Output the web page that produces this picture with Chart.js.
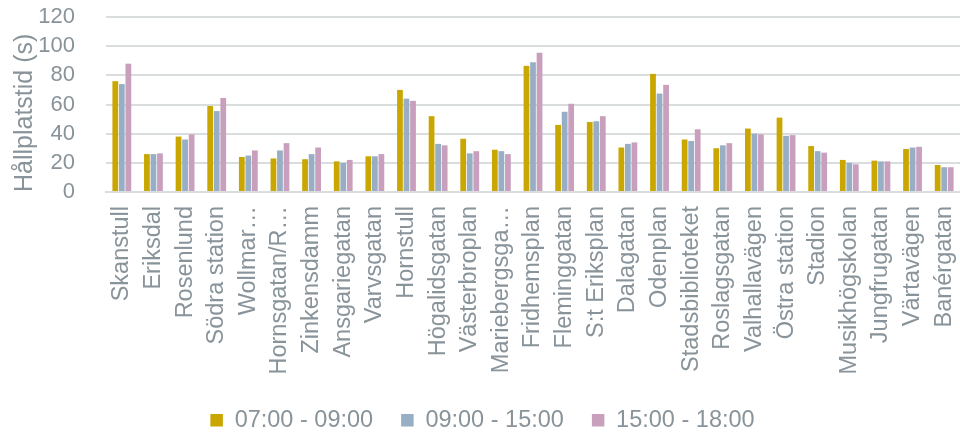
<!DOCTYPE html>
<html>
<head>
<meta charset="utf-8">
<script src="https://cdn.jsdelivr.net/npm/chart.js@4"></script>
<style>
  html, body { margin: 0; padding: 0; background: #fff; }
  #wrap { width: 960px; height: 435px; }
</style>
</head>
<body>
<div id="wrap"><canvas id="myChart" width="960" height="435"></canvas></div>
<script>
const stops = ['Skanstull', 'Eriksdal', 'Rosenlund', 'Södra station', 'Wollmar…', 'Hornsgatan/R…',
  'Zinkensdamm', 'Ansgariegatan', 'Varvsgatan', 'Hornstull', 'Högalidsgatan', 'Västerbroplan',
  'Mariebergsga…', 'Fridhemsplan', 'Fleminggatan', 'S:t Eriksplan', 'Dalagatan', 'Odenplan',
  'Stadsbiblioteket', 'Roslagsgatan', 'Valhallavägen', 'Östra station', 'Stadion',
  'Musikhögskolan', 'Jungfrugatan', 'Värtavägen', 'Banérgatan'];

const morning = [76, 26, 38, 59, 24, 23, 22.5, 21, 24.5, 70, 52, 36.5, 29, 86.5, 46, 48, 30.5, 81, 36, 30, 43.5, 51, 31.5, 22, 21.5, 29.5, 18.5];
const midday = [74, 26, 36, 55.5, 25, 28.5, 26, 20, 24.5, 64, 33, 26.5, 28, 89, 55, 48.5, 33, 67.5, 35, 32, 40, 38.5, 28, 20, 21, 30.5, 17];
const evening = [88, 26.5, 39.5, 64.5, 28.5, 33.5, 30.5, 22, 26, 62.5, 32, 28, 26, 95.5, 60.5, 52, 34, 73.5, 43, 33.5, 39.5, 39, 27, 19, 21, 31, 17];

const seriesNames = ['07:00 - 09:00', '09:00 - 15:00', '15:00 - 18:00'];
const colors = ['#C9A700', '#97AEC4', '#C8A0BE'];
const yTicks = [0, 20, 40, 60, 80, 100, 120];

const textColor = '#89939A';
const gridColor = '#DADDDD';
const font = 'Liberation Sans';

const ctx = document.getElementById('myChart');
new Chart(ctx, {
  type: 'bar',
  data: {
    labels: stops,
    datasets: [morning, midday, evening].map((d, i) => ({
      label: seriesNames[i],
      data: d,
      backgroundColor: colors[i],
      borderWidth: 0,
      categoryPercentage: 0.62,
      barPercentage: 0.88
    }))
  },
  options: {
    responsive: false,
    animation: false,
    layout: { padding: { left: 0, right: -5, top: 17, bottom: -7 } },
    plugins: {
      legend: {
        position: 'bottom',
        labels: {
          color: textColor,
          font: { family: font, size: 23.5 },
          boxWidth: 12.5,
          boxHeight: 12.5,
          padding: 28
        }
      },
      tooltip: { enabled: false }
    },
    scales: {
      x: {
        grid: { display: false, drawTicks: false },
        border: { display: true, color: gridColor, width: 2 },
        ticks: {
          color: textColor,
          font: { family: font, size: 23.5 },
          maxRotation: 90,
          minRotation: 90,
          autoSkip: false,
          padding: 14
        },
        afterFit: axis => {
          axis.paddingLeft = 0;
          axis.paddingRight = 0;
          axis.height = 188.5;
        }
      },
      y: {
        min: 0,
        max: 120,
        afterBuildTicks: axis => { axis.ticks = yTicks.map(v => ({ value: v })); },
        grid: { color: gridColor, lineWidth: 2, drawTicks: false },
        border: { display: false },
        ticks: {
          color: textColor,
          font: { family: font, size: 22 },
          autoSkip: false,
          padding: 31
        },
        title: {
          display: true,
          text: 'Hållplatstid (s)',
          align: 'start',
          color: textColor,
          font: { family: font, size: 25 },
          padding: { top: 10, bottom: 6 }
        },
        afterFit: axis => {
          axis.width = 106;
          axis.paddingTop = 0;
          axis.paddingBottom = 0;
        }
      }
    }
  }
});
</script>
</body>
</html>
